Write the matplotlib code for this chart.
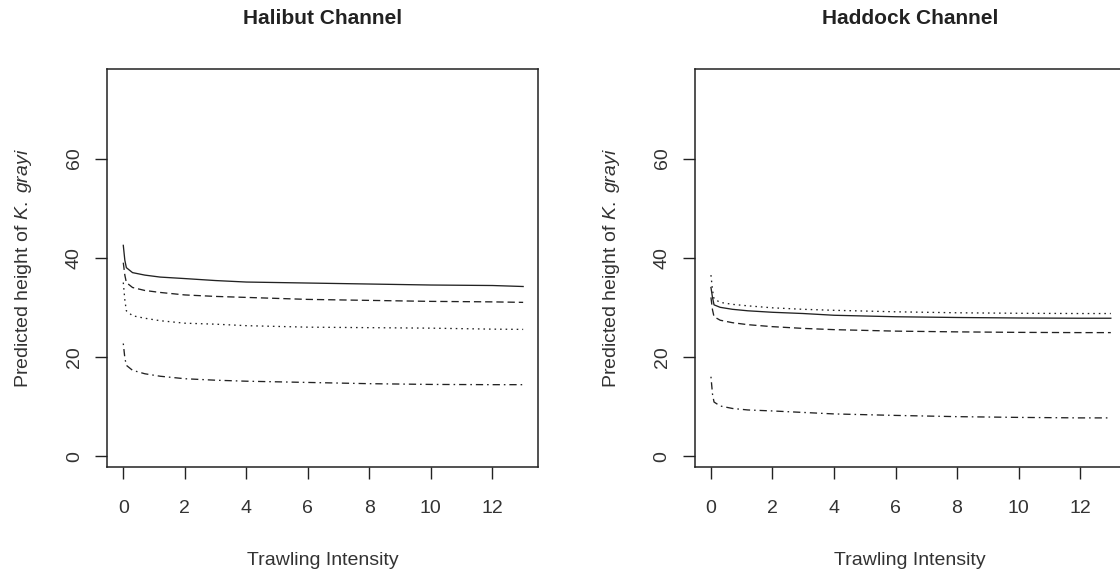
import matplotlib
matplotlib.use('Agg')
import matplotlib.pyplot as plt
import numpy as np

plt.rcParams['font.family'] = ['Liberation Sans', 'DejaVu Sans']
plt.rcParams['mathtext.fontset'] = 'custom'
plt.rcParams['mathtext.rm'] = 'Liberation Sans'
plt.rcParams['mathtext.it'] = 'Liberation Sans:italic'

# Trawling intensity values at which the predictions were read
intensity = [0, 0.05, 0.1, 0.3, 0.7, 1.2, 2, 3, 4, 6, 8, 10, 12, 13]

# Halibut Channel predicted heights, one array per line type
halibut_solid = [42.5, 39.5, 38.0, 37.0, 36.5, 36.1, 35.8, 35.4, 35.1, 34.9, 34.7, 34.5, 34.4, 34.2]
halibut_dashed = [39.0, 36.5, 35.0, 34.0, 33.4, 33.0, 32.5, 32.2, 32.0, 31.6, 31.4, 31.2, 31.1, 31.0]
halibut_dotted = [35.0, 31.5, 29.3, 28.3, 27.8, 27.3, 26.8, 26.6, 26.3, 26.0, 25.9, 25.8, 25.6, 25.55]
halibut_dotdash = [22.7, 19.8, 18.3, 17.3, 16.6, 16.1, 15.6, 15.3, 15.1, 14.85, 14.6, 14.45, 14.4, 14.4]

# Haddock Channel predicted heights
haddock_solid = [34.0, 32.0, 30.5, 30.0, 29.6, 29.3, 29.0, 28.75, 28.4, 28.1, 27.95, 27.85, 27.8, 27.8]
haddock_dashed = [32.0, 29.5, 28.1, 27.4, 26.9, 26.5, 26.1, 25.75, 25.5, 25.2, 25.05, 24.95, 24.9, 24.9]
haddock_dotted = [36.5, 33.5, 31.7, 31.0, 30.6, 30.3, 29.9, 29.6, 29.4, 29.1, 28.9, 28.8, 28.75, 28.75]
haddock_dotdash = [16.0, 12.5, 10.9, 10.1, 9.6, 9.3, 9.1, 8.8, 8.5, 8.2, 7.95, 7.8, 7.7, 7.7]

x_ticks = [0, 2, 4, 6, 8, 10, 12]
y_ticks = [0, 20, 40, 60]

# R style line types: solid, dashed, dotted, dotdash
styles = {
    'solid': '-',
    'dashed': (0, (5.5, 3)),
    'dotted': (0, (1.2, 3)),
    'dotdash': (0, (1.2, 3, 5.5, 3)),
}

panels = [
    ('Halibut Channel', 0.0958,
     {'solid': halibut_solid, 'dashed': halibut_dashed,
      'dotted': halibut_dotted, 'dotdash': halibut_dotdash}),
    ('Haddock Channel', 0.6205,
     {'solid': haddock_solid, 'dashed': haddock_dashed,
      'dotted': haddock_dotted, 'dotdash': haddock_dotdash}),
]

fig = plt.figure(figsize=(11.2, 5.75), dpi=100)

for title, left, series in panels:
    ax = fig.add_axes([left, 0.1883, 0.3842, 0.6911])
    for name, vals in series.items():
        ax.plot(intensity, vals, color='#222222', lw=0.95, linestyle=styles[name])

    ax.set_xlim(-0.52, 13.47)
    ax.set_ylim(-2.15, 78)
    ax.set_xticks(x_ticks)
    ax.set_yticks(y_ticks)
    ax.tick_params(axis='both', length=8.6, width=1.0, color='#222222',
                   labelsize=14, labelcolor='#333333')
    ax.tick_params(axis='x', pad=15.5)
    ax.tick_params(axis='y', pad=9)
    for lab in ax.get_yticklabels():
        lab.set_rotation(90)
        lab.set_va('center')
    for sp in ax.spines.values():
        sp.set_linewidth(1.1)
        sp.set_color('#222222')

    ax.set_xlabel('Trawling Intensity', fontsize=14, color='#333333', va='center')
    ax.xaxis.set_label_coords(0.5, -0.236)
    ax.set_ylabel(r'Predicted height of $\mathit{K.\ grayi}$', fontsize=14,
                  color='#333333', va='center')
    ax.yaxis.set_label_coords(-0.194, 0.5)
    ax.text(0.5, 1.128, title, transform=ax.transAxes, ha='center', va='center',
            fontsize=15, fontweight='bold', color='#222222')

fig.savefig('out.png', dpi=100)
